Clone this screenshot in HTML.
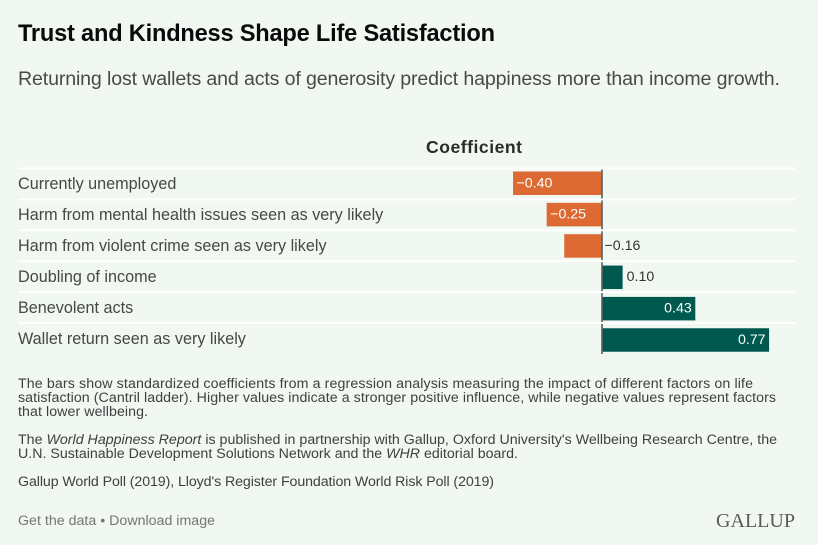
<!DOCTYPE html>
<html lang="en">
<head>
<meta charset="utf-8">
<title>Trust and Kindness Shape Life Satisfaction</title>
<style>
html,body{margin:0;padding:0;background:#fff;width:833px;height:545px;overflow:hidden}
svg{display:block;font-family:"Liberation Sans",sans-serif}
</style>
</head>
<body>
<svg id="chart" width="833" height="545" viewBox="0 0 833 545" xmlns="http://www.w3.org/2000/svg">
  <rect x="0" y="0" width="818" height="545" fill="#f1f7f1"/>
  <text x="18" y="41" font-size="23.6" font-weight="700" fill="#0a0a0a" textLength="477">Trust and Kindness Shape Life Satisfaction</text>
  <text x="18" y="85" font-size="19.6" fill="#484a49" textLength="762">Returning lost wallets and acts of generosity predict happiness more than income growth.</text>
  <text x="426" y="153" font-size="17.6" font-weight="700" fill="#2b2b2b" textLength="96">Coefficient</text>
  <g id="rows"></g>
  <g id="bars"></g>
  <g id="labels"></g>
  <g id="values"></g>

  <g font-size="14.2" fill="#3f4140">
    <text x="18" y="388" textLength="735">The bars show standardized coefficients from a regression analysis measuring the impact of different factors on life</text>
    <text x="18" y="402" textLength="758">satisfaction (Cantril ladder). Higher values indicate a stronger positive influence, while negative values represent factors</text>
    <text x="18" y="416" textLength="130">that lower wellbeing.</text>
  </g>
  <g font-size="14.2" fill="#3f4140">
    <text x="18" y="444" textLength="759">The <tspan font-style="italic">World Happiness Report</tspan> is published in partnership with Gallup, Oxford University's Wellbeing Research Centre, the</text>
    <text x="18" y="458" textLength="500">U.N. Sustainable Development Solutions Network and the <tspan font-style="italic">WHR</tspan> editorial board.</text>
  </g>
  <text x="18" y="486" font-size="14.2" fill="#3f4140" textLength="476">Gallup World Poll (2019), Lloyd's Register Foundation World Risk Poll (2019)</text>
  <text x="18" y="525" font-size="14.2" fill="#747775" textLength="197"><tspan>Get the data</tspan> • <tspan>Download image</tspan></text>
  <text x="716" y="527" font-family="'Liberation Serif',serif" font-size="20" fill="#5a5a5a" textLength="79">GALLUP</text>
</svg>
<script>
const categories = ["Currently unemployed", "Harm from mental health issues seen as very likely", "Harm from violent crime seen as very likely", "Doubling of income", "Benevolent acts", "Wallet return seen as very likely"];
const values = [-0.41, -0.255, -0.174, 0.095, 0.43, 0.77];
const valueLabels = ["\u22120.40", "\u22120.25", "\u22120.16", "0.10", "0.43", "0.77"];

const NS = "http://www.w3.org/2000/svg";
const zeroX = 602;
const pxPerUnit = 217;
const xScale = v => zeroX + v * pxPerUnit;
const bandTop = i => 171.5 + 31.35 * i;
const bandHeight = 23.5;
const dividerY = i => 168.5 + 30.9 * i;
const labelY = i => 189 + 31 * i;
const valueY = i => 187.3 + 31.3 * i;
const insideMinWidth = 45;

const rowsG = document.getElementById("rows");
const barsG = document.getElementById("bars");
const labelsG = document.getElementById("labels");
const valuesG = document.getElementById("values");

function make(tag, attrs, parent) {
  const el = document.createElementNS(NS, tag);
  for (const k in attrs) el.setAttribute(k, attrs[k]);
  parent.appendChild(el);
  return el;
}

categories.forEach((name, i) => {
  const v = values[i];
  const x1 = Math.min(xScale(v), zeroX);
  const w = Math.abs(xScale(v) - zeroX);

  const bar = make("rect", {x: x1, y: bandTop(i), width: w, height: bandHeight, fill: v < 0 ? "#dc6a32" : "#00594f"}, barsG);
  
  

  const label = make("text", {x: 18, y: labelY(i), "font-size": 16.2, fill: "#464847"}, labelsG);
  
  
  label.textContent = name;

  const inside = w >= insideMinWidth;
  let tx, anchor;
  if (inside) {
    tx = v < 0 ? x1 + 3.5 : x1 + w - 3.5;
    anchor = v < 0 ? "start" : "end";
  } else {
    tx = v < 0 ? zeroX + 2.5 : x1 + w + 4;
    anchor = "start";
  }
  const val = make("text", {x: tx, y: valueY(i), "font-size": 14.2, "text-anchor": anchor, fill: inside ? "#ffffff" : "#333333"}, valuesG);
  
  
  val.textContent = valueLabels[i];
});

const axis = make("line", {x1: zeroX, x2: zeroX, y1: 169, y2: 354, stroke: "#5c5f5e", "stroke-width": 1.6}, barsG);



categories.forEach((name, i) => {
  const d = make("rect", {x: 18, y: dividerY(i) - 1, width: 777, height: 2, fill: "#ffffff"}, rowsG);
  
  
});
barsG.parentNode.insertBefore(rowsG, barsG.nextSibling);
</script>
</body>
</html>
